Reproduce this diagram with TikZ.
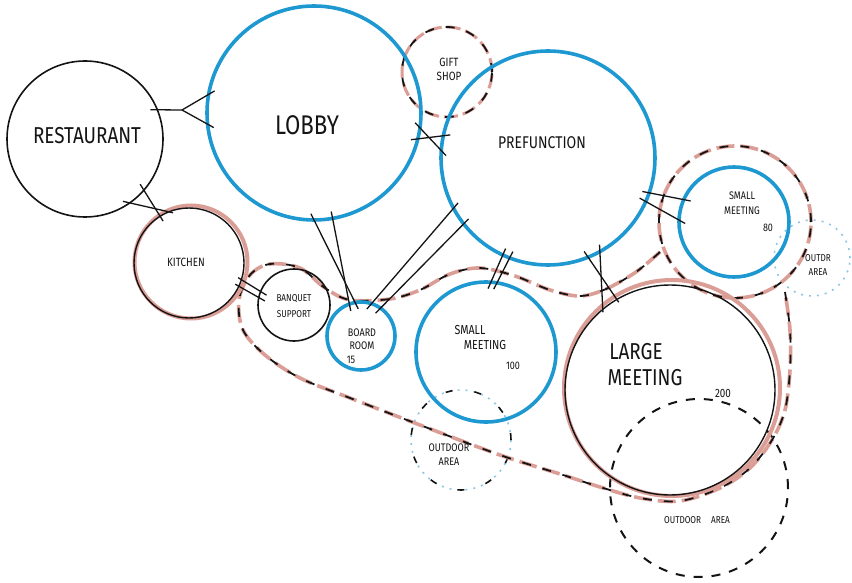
\documentclass[tikz,border=0pt]{standalone}
\usepackage{fontspec}
\newfontfamily\hand[FakeStretch=0.82]{Fira Sans}
\definecolor{sketchblue}{RGB}{30,152,208}
\definecolor{sketchpink}{RGB}{219,158,150}
\definecolor{ink}{RGB}{20,20,20}
\definecolor{paleblue}{RGB}{140,200,230}
\tikzset{
  room/.style={circle, inner sep=0pt, outer sep=0pt, minimum size=#1},
  bluewall/.style={draw=sketchblue, line width=3.6pt},
  pinkwall/.style={draw=sketchpink, line width=4pt},
  inkwall/.style={draw=ink, line width=1.6pt},
  link/.style={draw=ink, line width=1.3pt, shorten <=-7pt, shorten >=-7pt},
  pinkdash/.style={draw=sketchpink, line width=3.6pt, dash pattern=on 18pt off 6pt},
  inkdash/.style={draw=ink, line width=1.8pt, dash pattern=on 9pt off 12pt},
  opendash/.style={draw=ink, line width=2pt, dash pattern=on 9pt off 9pt},
  dotring/.style={draw=paleblue, line width=1.6pt, dash pattern=on 2pt off 6pt},
  tag/.style={text=ink, font=\hand, align=center, inner sep=0pt},
}
\begin{document}
\begin{tikzpicture}[x=1pt,y=-1pt]
\useasboundingbox[fill=white] (0,0) rectangle (852,583);

% ---- outdoor areas (open, dashed) ----
\node[room=100pt, dotring] (outsmall) at (461,440) {};
\draw[ink, line width=1.6pt, dash pattern=on 7pt off 22pt] (outsmall.center) circle[radius=50pt];
\node[room=76pt, dotring] (outcorner) at (812,258) {};
\node[room=178pt, opendash] (outlarge) at (699,488) {};

% ---- gift shop and the ring round the 80-seat meeting room ----
\node[room=90pt, draw=sketchpink, line width=3pt, dash pattern=on 14pt off 5pt] (gift) at (447,72) {};
\draw[inkdash] (gift.center) circle[radius=45pt];
\node[room=152pt, pinkdash] (ring) at (735,222) {};
\draw[inkdash] (ring.center) circle[radius=76pt];

% ---- service loop round the meeting rooms ----
\draw[pinkdash] plot[smooth, tension=0.55] coordinates {(660,252) (636,272) (606,289) (580,296) (550,290) (515,276) (480,268) (450,274) (420,290) (390,299) (350,300) (325,288) (300,268) (270,264) (250,275) (239,300) (243,330) (265,355) (300,378) (350,398) (420,425) (500,455) (560,474) (600,487) (640,498) (680,501) (720,488) (750,468) (772,440) (785,410) (790,370) (790,330) (785,292)};
\draw[inkdash] plot[smooth, tension=0.55] coordinates {(660,252) (636,272) (606,289) (580,296) (550,290) (515,276) (480,268) (450,274) (420,290) (390,299) (350,300) (325,288) (300,268) (270,264) (250,275) (239,300) (243,330) (265,355) (300,378) (350,398) (420,425) (500,455) (560,474) (600,487) (640,498) (680,501) (720,488) (750,468) (772,440) (785,410) (790,370) (790,330) (785,292)};

% ---- pink rooms ----
\node[room=113pt, pinkwall] (kitchen) at (191,262) {};
\draw[ink, line width=1.4pt] (189,263) circle[radius=55pt];
\node[room=216pt, pinkwall] (large) at (672,388) {};
\draw[ink, line width=1.4pt] (670,390) circle[radius=105pt];

% ---- black rooms ----
\node[room=156pt, inkwall] (rest) at (85,139) {};
\node[room=72pt, inkwall] (banquet) at (294,305) {};

% ---- blue rooms ----
\node[room=214pt, bluewall] (lobby) at (314,113) {};
\node[room=214pt, bluewall] (pref) at (548,158) {};
\node[room=110pt, bluewall] (small80) at (734,222) {};
\node[room=68pt, bluewall] (board) at (361,336) {};
\node[room=140pt, bluewall] (small100) at (486,352) {};

% ---- links between rooms ----
\coordinate (fork) at (182,110);
\draw[link, shorten >=0pt] (rest.22) -- (fork);
\draw[link, shorten <=0pt] (fork) -- (lobby.170);
\draw[link, shorten <=0pt] (fork) -- (lobby.186);
\draw[link] (rest.-55) -- (kitchen.116);
\draw[link] (rest.-41) -- (kitchen.124);
\draw[link] (lobby.-14) -- (pref.168);
\draw[link] (lobby.-8) -- (pref.176);
\draw[link] (lobby.-90) -- (board.100);
\draw[link] (lobby.-80) -- (board.110);
\draw[link] (pref.208) -- (board.72);
\draw[link] (pref.218) -- (board.55);
\draw[link] (pref.245) -- (small100.86);
\draw[link] (pref.249) -- (small100.81);
\draw[link] (pref.-68) -- (large.122);
\draw[link] (pref.-61) -- (large.130);
\draw[link] (pref.-19) -- (small80.156);
\draw[link] (pref.-24) -- (small80.178);
\draw[link] (kitchen.-20) -- (banquet.158);
\draw[link] (kitchen.-27) -- (banquet.168);

% ---- room names ----
\node[tag, font=\hand\fontsize{23}{26}\selectfont] (restlbl) at (87,136) {RESTAURANT};
\node[tag, font=\hand\fontsize{27}{30}\selectfont] (lobbylbl) at (307,125) {LOBBY};
\node[tag, font=\hand\fontsize{17}{20}\selectfont] (preflbl) at (542,143) {PREFUNCTION};
\node[tag, font=\hand\fontsize{12}{14}\selectfont] (giftlbl) at (449,69) {GIFT\\SHOP};
\node[tag, font=\hand\fontsize{11}{15}\selectfont] (s80lbl) at (742,203) {SMALL\\MEETING};
\node[tag, font=\hand\fontsize{11}{13}\selectfont] (s80cap) at (768,228) {80};
\node[tag, font=\hand\fontsize{10}{14}\selectfont] (cornerlbl) at (818,265) {OUTDR\\AREA};
\node[tag, font=\hand\fontsize{12}{14}\selectfont] (kitlbl) at (186,262) {KITCHEN};
\node[tag, font=\hand\fontsize{10}{16}\selectfont] (banlbl) at (294,306) {BANQUET\\SUPPORT};
\node[tag, font=\hand\fontsize{11}{13}\selectfont] (boardlbl) at (362,339) {BOARD\\ROOM};
\node[tag, font=\hand\fontsize{11}{13}\selectfont] (boardcap) at (351,360) {15};
\node[tag, font=\hand\fontsize{13}{15}\selectfont] (s100a) at (470,330) {SMALL};
\node[tag, font=\hand\fontsize{13}{15}\selectfont] (s100b) at (485,345) {MEETING};
\node[tag, font=\hand\fontsize{11}{13}\selectfont] (s100cap) at (513,366) {100};
\node[tag, font=\hand\fontsize{23}{26}\selectfont] (largea) at (636,352) {LARGE};
\node[tag, font=\hand\fontsize{23}{26}\selectfont] (largeb) at (645,378) {MEETING};
\node[tag, font=\hand\fontsize{12}{14}\selectfont] (largecap) at (723,393) {200};
\node[tag, font=\hand\fontsize{11}{14}\selectfont] (outsmalllbl) at (449,455) {OUTDOOR\\AREA};
\node[tag, font=\hand\fontsize{10}{12}\selectfont] (outlargelbl) at (697,520) {OUTDOOR\quad AREA};
\end{tikzpicture}
\end{document}
